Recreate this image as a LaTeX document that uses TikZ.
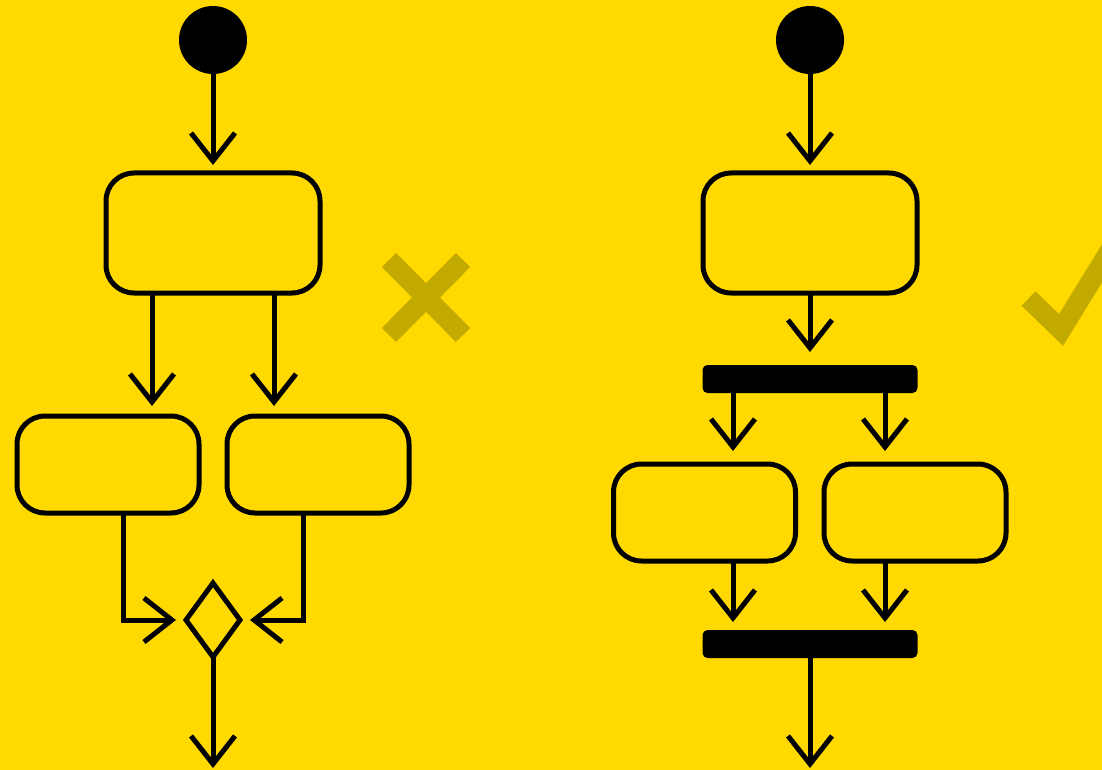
\documentclass[tikz,border=0pt]{standalone}
\usetikzlibrary{arrows.meta,shapes.geometric}
\definecolor{bgyellow}{RGB}{255,217,0}
\definecolor{markolive}{RGB}{194,170,0}
\tikzset{
  conn/.style={line width=5pt, -{Straight Barb[length=28pt,width=44pt]}},
  startdot/.style={circle, fill=black, minimum size=68pt, inner sep=0pt, outer sep=0pt},
  actbox/.style={draw, line width=5pt, rounded corners=28pt, inner sep=0pt, outer sep=0pt},
  bigbox/.style={actbox, minimum width=214pt, minimum height=120pt},
  smallbox/.style={actbox, minimum width=182pt, minimum height=97pt},
  bar/.style={fill=black, rounded corners=5pt, minimum width=215pt, minimum height=28pt, inner sep=0pt, outer sep=0pt},
  decision/.style={diamond, draw, line width=5pt, minimum width=54pt, minimum height=74pt, inner sep=0pt, outer sep=0pt},
  verdict/.style={draw=markolive, line width=20pt}
}
\begin{document}
\begin{tikzpicture}[x=1pt,y=-1pt]
\fill[bgyellow] (0,0) rectangle (1102,770);
\useasboundingbox (0,0) rectangle (1102,770);
\begin{scope}
\clip (0,0) rectangle (1102,770);
% left diagram
\node[startdot] (startL) at (213,40) {};
\node[bigbox] (boxL) at (213,233) {};
\node[smallbox] (boxLL) at (108,464.5) {};
\node[smallbox] (boxLR) at (318,464.5) {};
\node[decision] (dec) at (213,620) {};
\coordinate (endL) at (213,768);
\draw[conn, shorten >=8pt] (startL) -- (boxL);
\draw[conn, shorten >=10pt] ([xshift=-61pt]boxL.south) -- ([xshift=-61pt]boxL.south |- boxLL.north);
\draw[conn, shorten >=10pt] ([xshift=61pt]boxL.south) -- ([xshift=61pt]boxL.south |- boxLR.north);
\draw[conn, shorten >=10pt] ([xshift=15pt]boxLL.south) |- (dec.west);
\draw[conn, shorten >=10pt] ([xshift=-15pt]boxLR.south) |- (dec.east);
\draw[conn] (dec.south) -- (endL);
% cross
\draw[verdict] (389,260) -- (463,335);
\draw[verdict] (463,260) -- (389,335);
% right diagram
\node[startdot] (startR) at (810,40) {};
\node[bigbox] (boxR) at (810,233) {};
\node[bar] (fork) at (810,379) {};
\node[smallbox] (boxRL) at (704.5,512.5) {};
\node[smallbox] (boxRR) at (915,512.5) {};
\node[bar] (join) at (810,644) {};
\coordinate (endR) at (810,768);
\draw[conn, shorten >=8pt] (startR) -- (boxR);
\draw[conn, shorten >=13pt] (boxR) -- (fork);
\draw[conn, shorten >=13pt] ([xshift=-77pt]fork.south) -- ([xshift=-77pt]fork.south |- boxRL.north);
\draw[conn, shorten >=13pt] ([xshift=75pt]fork.south) -- ([xshift=75pt]fork.south |- boxRR.north);
\draw[conn, shorten >=8pt] ([xshift=-77pt]fork.south |- boxRL.south) -- ([xshift=-77pt]join.north);
\draw[conn, shorten >=8pt] ([xshift=75pt]fork.south |- boxRR.south) -- ([xshift=75pt]join.north);
\draw[conn] (join.south) -- (endR);
% check mark
\draw[verdict, miter limit=10] (1028.5,298.5) -- (1061,330) -- (1121,232.5);
\end{scope}
\end{tikzpicture}
\end{document}
